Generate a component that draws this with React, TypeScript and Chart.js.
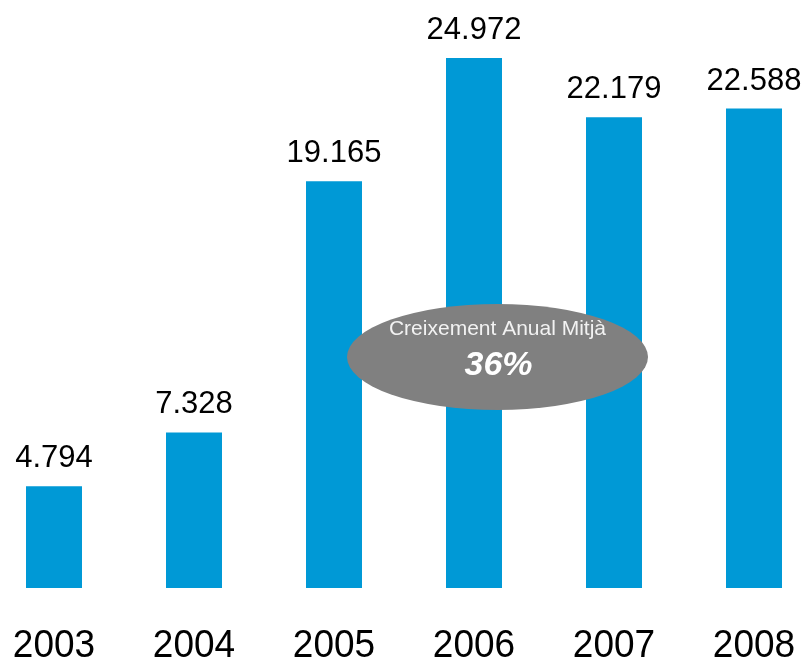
import React, { useEffect, useRef } from "react";
import { Chart, registerables } from "chart.js";

Chart.register(...registerables);

const years = ["2003", "2004", "2005", "2006", "2007", "2008"];
const values = [4.794, 7.328, 19.165, 24.972, 22.179, 22.588];
const valueLabels = ["4.794", "7.328", "19.165", "24.972", "22.179", "22.588"];
const bubbleTitle = "Creixement Anual Mitjà";
const bubbleValue = "36%";

const FONT = "'Liberation Sans', Arial, Helvetica, sans-serif";

const labelsPlugin = {
  id: "customLabels",
  afterDatasetsDraw(chart: any) {
    const ctx = chart.ctx;
    const xs = chart.scales.x;
    const ys = chart.scales.y;
    ctx.save();
    ctx.fillStyle = "#000000";
    ctx.textAlign = "center";
    ctx.textBaseline = "alphabetic";
    // value labels
    ctx.font = `31px ${FONT}`;
    values.forEach((v, i) => {
      const x = xs.getPixelForValue(i);
      const y = ys.getPixelForValue(v);
      ctx.fillText(valueLabels[i], x, y - 19);
    });
    // year labels (slightly tall glyphs, as in the reference)
    ctx.font = `37px ${FONT}`;
    const base = ys.getPixelForValue(0) + 69;
    years.forEach((yr, i) => {
      const x = xs.getPixelForValue(i);
      ctx.save();
      ctx.translate(x, base);
      ctx.scale(1, 1.06);
      ctx.fillText(yr, 0, 0);
      ctx.restore();
    });
    ctx.restore();
  },
  afterDraw(chart: any) {
    const ctx = chart.ctx;
    const xs = chart.scales.x;
    const ys = chart.scales.y;
    // bubble placed between 2005 and 2007 bars
    const cx = (xs.getPixelForValue(2) + xs.getPixelForValue(4)) / 2 + 23.5;
    const cy = ys.getPixelForValue(0) - 231;
    ctx.save();
    ctx.beginPath();
    ctx.ellipse(cx, cy, 150.5, 53, 0, 0, Math.PI * 2);
    ctx.fillStyle = "#808080";
    ctx.fill();
    ctx.fillStyle = "#f2f2f2";
    ctx.textAlign = "center";
    ctx.textBaseline = "alphabetic";
    ctx.font = `21px ${FONT}`;
    ctx.fillText(bubbleTitle, cx, cy - 22);
    ctx.fillStyle = "#ffffff";
    ctx.font = `italic bold 34px ${FONT}`;
    ctx.fillText(bubbleValue, cx + 1, cy + 18);
    ctx.restore();
  },
};

export default function App() {
  const canvasRef = useRef<HTMLCanvasElement | null>(null);

  useEffect(() => {
    if (!canvasRef.current) return;
    const chart = new Chart(canvasRef.current, {
      type: "bar",
      data: {
        labels: years,
        datasets: [
          {
            data: values,
            backgroundColor: "#0099d6",
            borderWidth: 0,
            barPercentage: 0.4,
            categoryPercentage: 1,
            clip: false as any,
          },
        ],
      },
      options: {
        responsive: false,
        maintainAspectRatio: false,
        animation: false,
        layout: { padding: { left: 54, right: 54, top: 0, bottom: 72 } },
        plugins: {
          legend: { display: false },
          tooltip: { enabled: false },
          title: { display: false },
        },
        scales: {
          x: { display: false, offset: false },
          y: { display: false, min: 0, max: 27.705 },
        },
      },
      plugins: [labelsPlugin],
    });
    return () => chart.destroy();
  }, []);

  return (
    <div style={{ position: "absolute", left: 0, top: 0, width: 808, height: 660, background: "#ffffff" }}>
      <canvas ref={canvasRef} width={808} height={660} style={{ width: 808, height: 660, display: "block" }} />
    </div>
  );
}
